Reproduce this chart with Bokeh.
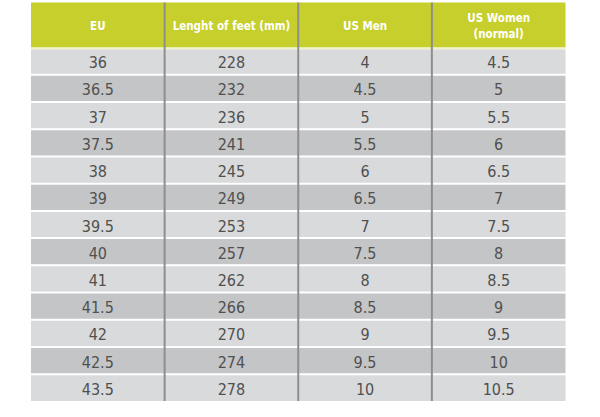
from bokeh.plotting import figure
from bokeh.models import Range1d
from bokeh.core.properties import value
from bokeh.embed import file_html
from bokeh.resources import INLINE

headers = ["EU", "Lenght of feet (mm)", "US Men", "US Women\n(normal)"]
eu = ["36", "36.5", "37", "37.5", "38", "39", "39.5", "40", "41", "41.5", "42", "42.5", "43.5"]
feet_mm = ["228", "232", "236", "241", "245", "249", "253", "257", "262", "266", "270", "274", "278"]
us_men = ["4", "4.5", "5", "5.5", "6", "6.5", "7", "7.5", "8", "8.5", "9", "9.5", "10"]
us_women = ["4.5", "5", "5.5", "6", "6.5", "7", "7.5", "8", "8.5", "9", "9.5", "10", "10.5"]
columns = [eu, feet_mm, us_men, us_women]

FONT = "'DejaVu Sans Condensed', 'Roboto Condensed', 'Liberation Sans Narrow', 'Noto Sans', sans-serif"

W, H = 584, 401
p = figure(width=W, height=H, output_backend="svg", toolbar_location=None,
           x_range=Range1d(0, W), y_range=Range1d(H, 0), min_border=0)
p.axis.visible = False
p.grid.visible = False
p.outline_line_color = None
p.background_fill_color = "white"
p.border_fill_color = "white"

x0, x1 = 30.5, 565.0
y_top, y_head = 2.0, 47.0
y_bot = 401.0
ncol = len(headers)
nrow = len(eu)
cw = (x1 - x0) / ncol
rh = (y_bot - y_head) / nrow
gap = 2.0

# header
p.quad(left=[x0], right=[x1], top=[y_top], bottom=[y_head], fill_color="#c6cf2c", line_color=None)
p.quad(left=[x0], right=[x1], top=[y_head], bottom=[y_head + gap], fill_color="#eef2c4", line_color=None)

# rows
lefts, rights, tops, bots, cols = [], [], [], [], []
for i in range(nrow):
    t = y_head + i * rh + (gap if i == 0 else gap / 2)
    b = y_head + (i + 1) * rh - (gap / 2 if i < nrow - 1 else 0)
    lefts.append(x0); rights.append(x1); tops.append(t); bots.append(b)
    cols.append("#d9dadb" if i % 2 == 0 else "#c4c5c7")
p.quad(left=lefts, right=rights, top=tops, bottom=bots, fill_color=cols, line_color=None)

# vertical dividers
for j in range(1, ncol):
    xx = x0 + j * cw
    p.segment(x0=[xx], y0=[y_top], x1=[xx], y1=[y_bot], line_color="#8e8e8e", line_width=2)

# header texts
hx, hy, ht = [], [], []
for j, h in enumerate(headers):
    hx.append(x0 + (j + 0.5) * cw)
    hy.append((y_top + y_head) / 2 + 1)
    ht.append(h)
p.text(x=hx, y=hy, text=ht, text_align="center", text_baseline="middle",
       text_color="white", text_font=value(FONT),
       text_font_style="bold", text_font_size="11.5px", text_line_height=1.1)

# cell texts
cx, cy, ct = [], [], []
for j, col in enumerate(columns):
    for i, v in enumerate(col):
        cx.append(x0 + (j + 0.5) * cw)
        cy.append(y_head + (i + 0.5) * rh + 1)
        ct.append(v)
p.text(x=cx, y=cy, text=ct, text_align="center", text_baseline="middle",
       text_color="#505050", text_font=value(FONT),
       text_font_size="16px")

open("out.html", "w").write(file_html(p, INLINE))
